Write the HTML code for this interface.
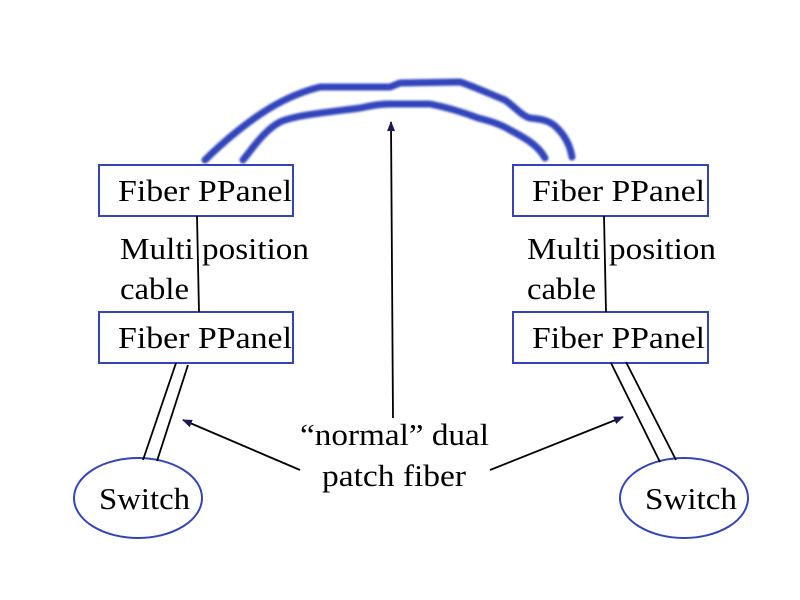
<!DOCTYPE html>
<html><head><style>body{margin:0;background:#fff}svg{display:block}text{font-family:"Liberation Serif",serif;font-size:31px;fill:#000}</style></head>
<body><svg width="800" height="600" xmlns="http://www.w3.org/2000/svg">
<defs><filter id="b"><feGaussianBlur stdDeviation="1"/></filter>
<marker id="a" markerWidth="10" markerHeight="8" refX="9" refY="4" orient="auto" markerUnits="userSpaceOnUse"><path d="M0,0 L10,4 L0,8 z" fill="#1a1a5a"/></marker></defs>
<g fill="none" stroke="#3344bb" stroke-width="7" stroke-linecap="round" stroke-linejoin="round" filter="url(#b)">
<path d="M205,160 C225,140 250,120 270,108 C285,99 300,92 320,87 L390,87 L400,83 L460,82 C470,85 490,94 505,100 C515,107 522,116 530,118 C540,119 548,120 555,126 C565,135 570,145 572,157"/>
<path d="M243,160 C255,145 265,130 280,122 C295,115 330,112 360,108 C370,106 378,104 390,104 L430,104 C445,107 460,111 478,118 C490,121 500,124 510,130 C525,138 538,145 545,158"/>
</g>
<g fill="none" stroke="#3344bb" stroke-width="2">
<rect x="99" y="165" width="194" height="51"/><rect x="99" y="312" width="194" height="51"/>
<rect x="513" y="165" width="195" height="51"/><rect x="513" y="312" width="195" height="51"/>
<ellipse cx="138" cy="498" rx="64" ry="40"/><ellipse cx="684" cy="498" rx="64" ry="40"/>
</g>
<g stroke="#000" stroke-width="1.8" fill="none">
<line x1="197" y1="216" x2="199" y2="312"/><line x1="604" y1="216" x2="606" y2="312"/>
<line x1="176" y1="363" x2="143" y2="460"/><line x1="188" y1="365" x2="157" y2="461"/>
<line x1="611" y1="363" x2="660" y2="462"/><line x1="626" y1="362" x2="676" y2="460"/>
<line x1="300" y1="470" x2="183" y2="420" marker-end="url(#a)"/>
<line x1="490" y1="470" x2="623" y2="417" marker-end="url(#a)"/>
<line x1="393" y1="418" x2="391" y2="122" marker-end="url(#a)"/>
</g>
<text x="118" y="201" textLength="174" lengthAdjust="spacingAndGlyphs">Fiber PPanel</text>
<text x="118" y="348" textLength="174" lengthAdjust="spacingAndGlyphs">Fiber PPanel</text>
<text x="532" y="201" textLength="173" lengthAdjust="spacingAndGlyphs">Fiber PPanel</text>
<text x="532" y="348" textLength="173" lengthAdjust="spacingAndGlyphs">Fiber PPanel</text>
<text x="120" y="259" textLength="189" lengthAdjust="spacingAndGlyphs">Multi position</text>
<text x="120" y="299" textLength="69" lengthAdjust="spacingAndGlyphs">cable</text>
<text x="527" y="259" textLength="189" lengthAdjust="spacingAndGlyphs">Multi position</text>
<text x="527" y="299" textLength="69" lengthAdjust="spacingAndGlyphs">cable</text>
<text x="99" y="509" textLength="91" lengthAdjust="spacingAndGlyphs">Switch</text>
<text x="645" y="509" textLength="92" lengthAdjust="spacingAndGlyphs">Switch</text>
<text x="300" y="445" textLength="189" lengthAdjust="spacingAndGlyphs">“normal” dual</text>
<text x="322" y="486" textLength="144" lengthAdjust="spacingAndGlyphs">patch fiber</text>
</svg></body></html>
